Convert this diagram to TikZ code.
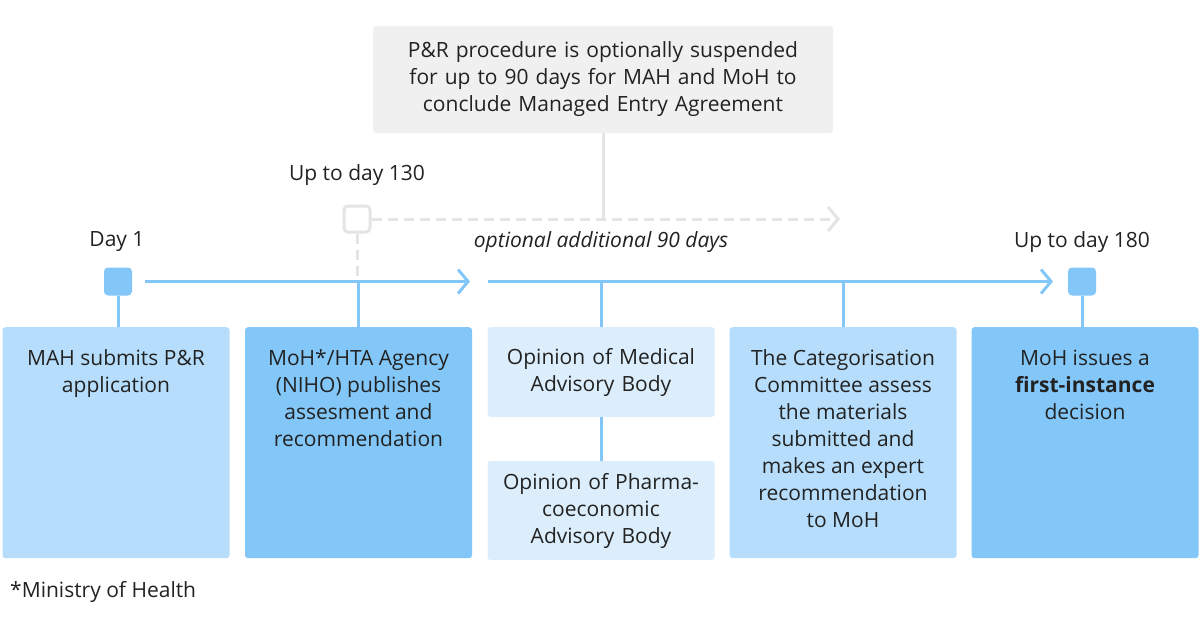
\documentclass[tikz,border=0pt]{standalone}
\usepackage{fontspec}
\setmainfont{Open Sans}
\usetikzlibrary{arrows.meta}
\definecolor{pr_light}{RGB}{182,222,252}
\definecolor{pr_mid}{RGB}{131,199,249}
\definecolor{pr_pale}{RGB}{220,238,252}
\definecolor{pr_grey}{RGB}{240,240,240}
\definecolor{pr_dash}{RGB}{228,228,228}
\definecolor{pr_text}{RGB}{34,34,34}
\tikzstyle{stage}=[rectangle,rounded corners=3pt,anchor=north,inner sep=0pt,
  minimum width=227pt,minimum height=231pt,text=pr_text]
\tikzstyle{opinion}=[rectangle,rounded corners=3pt,fill=pr_pale,inner sep=0pt,
  minimum width=227pt,text width=222pt,align=center,text=pr_text]
\tikzstyle{day}=[rectangle,rounded corners=4pt,fill=pr_mid,minimum size=28pt,inner sep=0pt]
\tikzstyle{tl}=[draw=pr_mid,line width=3pt]
\tikzstyle{gl}=[draw=pr_dash,line width=3pt]
\tikzstyle{lbl}=[text=pr_text,inner sep=0pt]
\newcommand{\stagetext}[1]{\parbox[t][231pt][t]{224pt}{\centering\rule{0pt}{38pt}#1}}

\begin{document}
\begin{tikzpicture}[x=1pt,y=-1pt,font=\fontsize{21pt}{27pt}\selectfont]
    \useasboundingbox (0,0) rectangle (1200,618);
    \node [style=opinion,fill=pr_grey,minimum width=460pt,minimum height=107pt,text width=455pt] (sus) at (603,79.5)
      {P\&R procedure is optionally suspended\\for up to 90 days for MAH and MoH to\\conclude Managed Entry Agreement};
    \node [style=lbl] (l130) at (357,175) {Up to day 130};
    \node [style=lbl] (l1) at (117,242) {Day 1};
    \node [style=lbl] (l180) at (1082,242) {Up to day 180};
    \node [style=lbl,font=\fontsize{21pt}{27pt}\selectfont\itshape] (lopt) at (601,242) {optional additional 90 days};
    \node [style=day,fill=white,draw=pr_dash,line width=3pt,minimum size=26pt] (d130) at (357,219) {};
    \node [style=day] (d1) at (118,281.5) {};
    \node [style=day] (d180) at (1082,281.5) {};
    \node [style=stage,fill=pr_light] (b1) at (116,327) {\stagetext{MAH submits P\&R\\application}};
    \node [style=stage,fill=pr_mid] (b2) at (358.5,327) {\stagetext{MoH*/HTA Agency\\(NIHO) publishes\\assesment and\\recommendation}};
    \node [style=opinion,minimum height=90pt] (b3) at (601,372) {Opinion of Medical\\Advisory Body};
    \node [style=opinion,minimum height=99pt] (b4) at (601,510.5) {Opinion of Pharma-\\coeconomic\\Advisory Body};
    \node [style=stage,fill=pr_light] (b5) at (843,327) {\stagetext{The Categorisation\\Committee assess\\the materials\\submitted and\\makes an expert\\recommendation\\to MoH}};
    \node [style=stage,fill=pr_mid] (b6) at (1085,327) {\stagetext{MoH issues a\\\textbf{first-instance}\\decision}};
    \node [style=lbl,anchor=west] (note) at (10,592) {*Ministry of Health};
    \coordinate (s1) at (145,281.5);
    \coordinate (e1) at (470,281.5);
    \coordinate (s2) at (488,281.5);
    \coordinate (e2) at (1053,281.5);
    \coordinate (e3) at (840,219);
    \draw [style=gl] (sus.south) to (sus.south |- d130);
    \draw [style=gl,dash pattern=on 10pt off 6pt,-{Straight Barb[length=10pt,width=24pt]}] (d130.east) to (e3);
    \draw [style=gl,dash pattern=on 10pt off 6pt] (d130.south) to (d130.south |- d1);
    \draw [style=tl,-{Straight Barb[length=10pt,width=24pt]}] (s1) to (e1);
    \draw [style=tl,-{Straight Barb[length=10pt,width=24pt]}] (s2) to (e2);
    \draw [style=tl] (d1) to (d1 |- b1.north);
    \draw [style=tl] (d1 -| b2.north) to (b2.north);
    \draw [style=tl] (d1 -| b3.north) to (b3.north);
    \draw [style=tl] (b3.south) to (b4.north);
    \draw [style=tl] (d1 -| b5.north) to (b5.north);
    \draw [style=tl] (d180) to (d180 |- b6.north);
\end{tikzpicture}
\end{document}
